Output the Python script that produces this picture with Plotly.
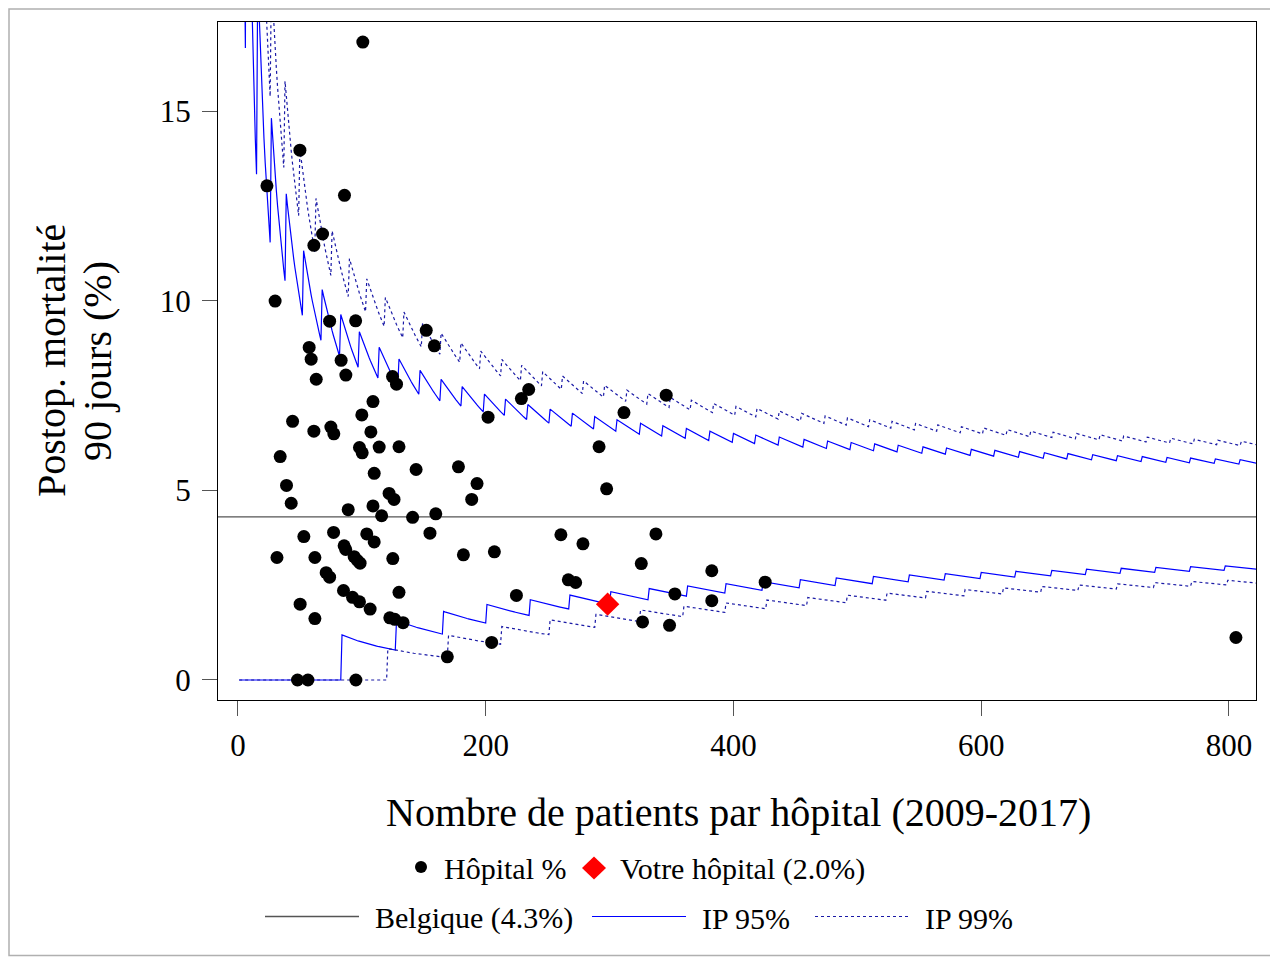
import plotly.graph_objects as go

# hospital volume (patients 2009-2017) and 90-day postoperative mortality (%)
hosp_n = [100.8, 50, 23.4, 86, 68.3, 61.3, 30, 74, 95, 152,
          158.5, 57.5, 59.1, 83.3, 63.2, 87.1, 124.8, 128, 109, 100,
          44.1, 61.3, 75, 77.4, 107.3, 98.1, 100.3, 114, 130, 34.1,
          143.8, 110, 39.2, 122, 126, 43, 89, 109, 116, 141,
          159.7, 53.2, 77.2, 104, 110, 155, 31.5, 62.1, 85.7, 87,
          93.8, 96.5, 98.6, 125, 71.2, 74, 85.2, 92.5, 98.1, 106.7,
          130, 50.2, 62.1, 122.6, 126.6, 133.3, 48.1, 56.5, 95.2, 234.7,
          228.8, 201.9, 291.5, 178, 193, 188.7, 182, 207, 260.7, 278.5,
          266.7, 272.6, 224.8, 204.8, 169, 345.7, 311.6, 297.6, 337.4, 325.6,
          382.5, 352.7, 425.6, 382.5, 326.6, 348.4, 805.6]
hosp_pct = [16.82, 13.97, 13.03, 12.78, 11.76, 11.46, 9.99, 9.46, 9.47, 9.22,
            8.81, 8.77, 8.46, 8.43, 7.93, 8.04, 8.0, 7.8, 7.34, 6.99,
            6.82, 6.56, 6.67, 6.49, 6.54, 6.13, 5.99, 6.14, 6.15, 5.89,
            5.55, 5.45, 5.13, 4.92, 4.76, 4.66, 4.49, 4.59, 4.33, 4.29,
            4.38, 3.78, 3.89, 3.85, 3.64, 3.87, 3.23, 3.23, 3.54, 3.44,
            3.25, 3.15, 3.08, 3.2, 2.83, 2.71, 2.36, 2.18, 2.06, 1.87,
            2.31, 2.0, 1.62, 1.64, 1.60, 1.51, 0, 0, 0, 7.66,
            7.42, 6.93, 6.15, 5.62, 5.18, 4.76, 3.3, 3.38, 3.83, 3.59,
            2.64, 2.57, 2.23, 0.99, 0.61, 7.51, 7.05, 5.04, 3.85, 3.07,
            2.88, 2.27, 2.58, 2.09, 1.53, 1.44, 1.12]

your_n = [298.4]
your_pct = [2.0]

belgium_rate = 0.043
n_max = 830
x_ticks = [0, 200, 400, 600, 800]
y_ticks = [0, 5, 10, 15]

FONT = "Liberation Serif"
OFF = 8                            # page body margin of the browser
W, H = 1278 - OFF, 957 - OFF
L, R, T, B = 218, 1256, 22, 700    # plot area in screen pixels


def qbinom(q, n, p):
    # smallest k with P(X <= k) >= q, X ~ Bin(n, p)
    pk = (1 - p) ** n
    cdf = pk
    k = 0
    while cdf < q * (1 - 64 * 2.2e-16) and k < n:
        pk *= (n - k) / (k + 1) * p / (1 - p)
        k += 1
        cdf += pk
    return k


def limits(level):
    a = (1 - level) / 2
    ns = list(range(1, n_max + 1))
    lo = [100 * qbinom(a, n, belgium_rate) / n for n in ns]
    hi = [100 * qbinom(1 - a, n, belgium_rate) / n for n in ns]
    return ns, lo, hi


def px2x(px):
    return (px - L) / (R - L)


def px2y(py):
    return (B - py) / (B - T)


fig = go.Figure()

blue95 = dict(color='#0000ff', width=1.2)
blue99 = dict(color='#1a1aa6', width=1.2, dash='dot')
for level, style in [(0.95, blue95), (0.99, blue99)]:
    ns, lo, hi = limits(level)
    fig.add_trace(go.Scatter(x=ns, y=hi, mode='lines', line=style, showlegend=False, hoverinfo='skip'))
    fig.add_trace(go.Scatter(x=ns, y=lo, mode='lines', line=style, showlegend=False, hoverinfo='skip'))

fig.add_hline(y=belgium_rate * 100, line=dict(color='#555555', width=1.3), layer='below')

fig.add_trace(go.Scatter(x=hosp_n, y=hosp_pct, mode='markers', showlegend=False,
                         marker=dict(color='black', size=13)))
fig.add_trace(go.Scatter(x=your_n, y=your_pct, mode='markers', showlegend=False,
                         marker=dict(color='red', size=18, symbol='diamond')))

axis_common = dict(showgrid=False, zeroline=False, ticks='outside', ticklen=15,
                   tickcolor='#555555', tickwidth=1.2, showline=True, linecolor='black',
                   linewidth=1.3, mirror=True, tickfont=dict(family=FONT, size=31, color='black'))

fig.update_xaxes(range=[-16.1, 821.8], tickvals=x_ticks, ticklabelstandoff=3, **axis_common)
fig.update_yaxes(range=[-0.528, 17.35], tickvals=y_ticks, ticklabelstandoff=5, **axis_common)

# titles
ann = []
ann.append(dict(text='Nombre de patients par hôpital (2009-2017)', x=px2x(738), y=px2y(812),
                font=dict(size=40)))
ann.append(dict(text='Postop. mortalité', x=px2x(51), y=px2y(361), textangle=-90, font=dict(size=40)))
ann.append(dict(text='90 jours (%)', x=px2x(97), y=px2y(361), textangle=-90, font=dict(size=40)))

# legend, drawn by hand (R style long line keys)
shapes = []
shapes.append(dict(type='circle', xref='paper', yref='paper', fillcolor='black', line=dict(width=0),
                   x0=px2x(415), x1=px2x(427), y0=px2y(873), y1=px2y(861)))
cx, cy, hw, hh = 594, 868, 12, 11.5
shapes.append(dict(type='path', xref='paper', yref='paper', fillcolor='red', line=dict(width=0),
                   path='M {},{} L {},{} L {},{} L {},{} Z'.format(
                       px2x(cx - hw), px2y(cy), px2x(cx), px2y(cy - hh),
                       px2x(cx + hw), px2y(cy), px2x(cx), px2y(cy + hh))))
for x0, x1, style in [(265, 359, dict(color='#555555', width=1.3)), (592, 686, blue95), (815, 909, blue99)]:
    shapes.append(dict(type='line', xref='paper', yref='paper', line=style,
                       x0=px2x(x0), x1=px2x(x1), y0=px2y(916.5), y1=px2y(916.5)))
# outer frame of the picture
shapes.append(dict(type='rect', xref='paper', yref='paper', line=dict(color='#b0b0b0', width=1.5),
                   x0=px2x(OFF + 1), x1=px2x(1276.5), y0=px2y(955.5), y1=px2y(OFF + 1)))

for text, x, y in [('Hôpital %', 442, 869), ('Votre hôpital (2.0%)', 618, 869),
                   ('Belgique (4.3%)', 373, 918), ('IP 95%', 700, 918), ('IP 99%', 923, 918)]:
    ann.append(dict(text=text, x=px2x(x), y=px2y(y), xanchor='left', font=dict(size=30)))

for a in ann:
    a.setdefault('xanchor', 'center')
    a.update(xref='paper', yref='paper', yanchor='middle', showarrow=False)
    a['font'].update(family=FONT, color='black')

fig.update_layout(width=W, height=H,
                  margin=dict(l=L - OFF, r=1278 - R, t=T - OFF, b=957 - B),
                  plot_bgcolor='white', paper_bgcolor='white',
                  annotations=ann, shapes=fig.layout.shapes + tuple(shapes))

fig.write_html("out.html")
